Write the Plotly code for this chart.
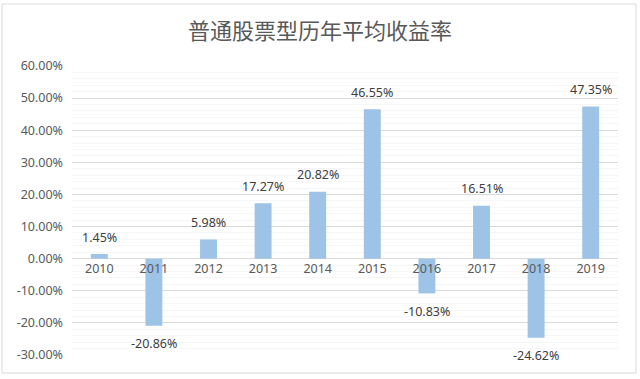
import plotly.graph_objects as go

years = ["2010", "2011", "2012", "2013", "2014", "2015", "2016", "2017", "2018", "2019"]
returns = [1.45, -20.86, 5.98, 17.27, 20.82, 46.55, -10.83, 16.51, -24.62, 47.35]
y_ticks = [-30, -20, -10, 0, 10, 20, 30, 40, 50, 60]
title_text = "普通股票型历年平均收益率"

fig = go.Figure(go.Bar(
    x=years, y=returns,
    marker=dict(color="#9DC3E6", line=dict(width=0)),
    width=0.31,
    cliponaxis=False,
    hoverinfo="skip",
))

for i, (yr, v) in enumerate(zip(years, returns)):
    fig.add_annotation(
        x=i, y=v, text=f"{v:.2f}%", showarrow=False,
        yshift=17 if v >= 0 else -18, yanchor="middle",
        font=dict(size=12.5, color="#404040", family="Noto Sans"),
    )

fig.update_layout(
    width=640, height=379,
    margin=dict(l=72, r=22, t=66, b=24),
    paper_bgcolor="white", plot_bgcolor="white",
    showlegend=False,
    title=dict(text=title_text, x=0.5, xanchor="center", y=0.918, yanchor="middle",
               font=dict(size=22, color="#595959", family="Noto Sans CJK SC")),
    xaxis=dict(type="category", range=[-0.5, len(years) - 0.5],
               anchor="free", position=1/3, showline=False, ticks="",
               tickfont=dict(size=12.5, color="#595959", family="Noto Sans"),
               showgrid=False, zeroline=False, ticklabelstandoff=1),
    yaxis=dict(range=[-30, 60], tickvals=y_ticks, ticktext=[f"{v:.2f}%" for v in y_ticks],
               tickfont=dict(size=12.5, color="#595959", family="Noto Sans"),
               showgrid=True, gridcolor="#D9D9D9", gridwidth=1,
               zeroline=True, zerolinecolor="#D9D9D9", zerolinewidth=1,
               showline=False, ticks="", ticklabelstandoff=8,
               minor=dict(dtick=2, showgrid=True, gridcolor="#F6F6F6", gridwidth=1)),
    shapes=[dict(type="rect", xref="paper", yref="paper",
                 x0=(2 - 72) / 546, x1=(636 - 72) / 546,
                 y0=(355 - 373) / 289, y1=(355 - 4) / 289,
                 line=dict(color="#D9D9D9", width=1), layer="below")],
)

fig.write_html("out.html", config={"displayModeBar": False},
               post_script="document.body.style.margin='0';")
